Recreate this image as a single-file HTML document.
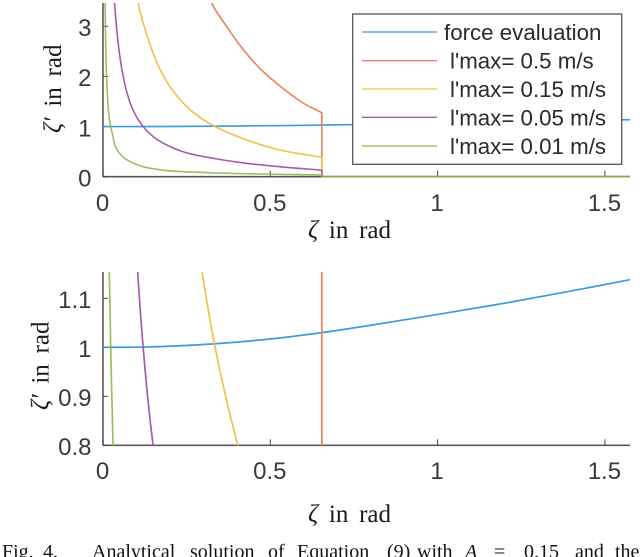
<!DOCTYPE html>
<html>
<head>
<meta charset="utf-8">
<style>
html,body{margin:0;padding:0;background:#fff;}
body{width:640px;height:557px;overflow:hidden;}
svg{display:block;filter:blur(0.35px);}
.tick{font-family:"Liberation Sans",sans-serif;font-size:24px;fill:#3a3a3a;}
.leg{font-family:"Liberation Sans",sans-serif;font-size:22.3px;fill:#2a2a2a;}
.lab{font-family:"Liberation Serif","DejaVu Serif",serif;font-size:25px;fill:#1a1a1a;word-spacing:4.5px;}
.lab .z{font-style:italic;}
.cap{font-family:"Liberation Serif",serif;font-size:20px;fill:#111;}
</style>
</head>
<body>
<svg id="figure" xmlns="http://www.w3.org/2000/svg" width="640" height="557" viewBox="0 0 640 557">
  <defs>
    <clipPath id="clip-top"><rect x="103" y="3" width="527" height="175"/></clipPath>
    <clipPath id="clip-bottom"><rect x="103" y="272" width="527" height="173.5"/></clipPath>
  </defs>
  <g id="top-plot"></g>
  <g id="bottom-plot"></g>

  <text class="lab" x="308" y="238"><tspan class="z">ζ</tspan> in rad</text>
  <text class="lab" transform="translate(61,133) rotate(-90)"><tspan class="z">ζ′</tspan> in rad</text>
  <text class="lab" x="308" y="522"><tspan class="z">ζ</tspan> in rad</text>
  <text class="lab" transform="translate(48.5,410) rotate(-90)"><tspan class="z">ζ′</tspan> in rad</text>

  <g id="legend">
    <rect x="352.7" y="14" width="269" height="150.3" fill="#fff" stroke="#555" stroke-width="1.3"/>
    <line x1="362" x2="437" y1="32" y2="32" stroke="#3f9bd6" stroke-width="1.3"/>
    <text class="leg" x="444" y="40">force evaluation</text>
    <line x1="362" x2="437" y1="60.7" y2="60.7" stroke="#e8825a" stroke-width="1.3"/>
    <text class="leg" x="450" y="68.5">l'max= 0.5 m/s</text>
    <line x1="362" x2="437" y1="89" y2="89" stroke="#f5c04a" stroke-width="1.3"/>
    <text class="leg" x="450" y="97">l'max= 0.15 m/s</text>
    <line x1="362" x2="437" y1="117.3" y2="117.3" stroke="#a45cb0" stroke-width="1.3"/>
    <text class="leg" x="450" y="125.3">l'max= 0.05 m/s</text>
    <line x1="362" x2="437" y1="146" y2="146" stroke="#8ab84a" stroke-width="1.3"/>
    <text class="leg" x="450" y="154">l'max= 0.01 m/s</text>
  </g>

  <g id="caption">
    <text class="cap" x="2" y="558">Fig.</text>
    <text class="cap" x="43" y="558">4.</text>
    <text class="cap" x="92" y="558">Analytical</text>
    <text class="cap" x="190" y="558">solution</text>
    <text class="cap" x="268" y="558">of</text>
    <text class="cap" x="297" y="558">Equation</text>
    <text class="cap" x="387" y="558">(9)</text>
    <text class="cap" x="417" y="558">with</text>
    <text class="cap" x="465" y="558" font-style="italic">A</text>
    <text class="cap" x="494" y="558">=</text>
    <text class="cap" x="524" y="558">0.15</text>
    <text class="cap" x="575" y="558">and</text>
    <text class="cap" x="615" y="558">the</text>
  </g>
</svg>
<script>
var forceX = [0, 0.12, 0.33, 0.5, 0.654, 0.8, 1, 1.2, 1.4, 1.575];
var forceY = [1, 1.0005, 1.007, 1.017, 1.03, 1.045, 1.067, 1.09, 1.115, 1.138];
var l05X = [0.31, 0.325, 0.37, 0.42, 0.469, 0.544, 0.599, 0.654, 0.654, 1.575];
var l05Y = [3.7, 3.46, 2.99, 2.53, 2.16, 1.73, 1.465, 1.277, 0, 0];
var l015X = [0.1, 0.1055, 0.13, 0.172, 0.205, 0.25, 0.297, 0.335, 0.403, 0.519, 0.654, 0.654, 1.575];
var l015Y = [3.7, 3.46, 2.85, 2.12, 1.75, 1.4, 1.15, 1, 0.8, 0.547, 0.387, 0, 0];
var l005X = [0.032, 0.0345, 0.043, 0.057, 0.069, 0.083, 0.105, 0.12, 0.152, 0.23, 0.335, 0.42, 0.519, 0.654, 0.654, 1.575];
var l005Y = [3.7, 3.46, 2.8, 2.12, 1.74, 1.44, 1.14, 1, 0.79, 0.52, 0.36, 0.275, 0.205, 0.13, 0, 0];
var l001X = [0.006, 0.0065, 0.012, 0.0165, 0.019, 0.023, 0.03, 0.036, 0.059, 0.105, 0.18, 0.29, 0.654, 0.654, 1.575];
var l001Y = [4, 3.46, 1.8, 1.3, 1.15, 1, 0.8, 0.62, 0.4, 0.23, 0.13, 0.088, 0.034, 0, 0];
var xTicks = [0, 0.5, 1, 1.5];
var xTickLabels = ['0', '0.5', '1', '1.5'];
var topYTicks = [0, 1, 2, 3];
var topYTickLabels = ['0', '1', '2', '3'];
var bottomYTicks = [0.8, 0.9, 1, 1.1];
var bottomYTickLabels = ['0.8', '0.9', '1', '1.1'];
var seriesNames = ['force-evaluation', 'lmax-0.5', 'lmax-0.15', 'lmax-0.05', 'lmax-0.01'];

var NS = 'http://www.w3.org/2000/svg';
var xMax = 1.575;
function xScale(v) { return 103 + v / xMax * 527; }
function makeY(minV, maxV, pxBottom, pxTop) {
  return function (v) { return pxBottom - (v - minV) / (maxV - minV) * (pxBottom - pxTop); };
}
var lineColors = ['#3f9bd6', '#e8825a', '#f5c04a', '#a45cb0', '#86b544'];
var lineOpacity = [1, 1, 1, 1, 0.85];

// Smooth path inside each run; runs break where consecutive points share an x (vertical drop).
function buildPath(xs, ys, yScale) {
  var px = [], py = [], i;
  for (i = 0; i < xs.length; i++) { px.push(xScale(xs[i])); py.push(yScale(ys[i])); }
  function isBreakAfter(k) { return xs[k] === xs[k + 1] || ys[k] === ys[k + 1]; }
  function tangent(k) {
    var hasPrev = !(k === 0 || isBreakAfter(k - 1));
    var hasNext = !(k === xs.length - 1 || isBreakAfter(k));
    var ax = 0, ay = 0, bx = 0, by = 0, l1 = 1, l2 = 1;
    if (hasPrev) { ax = px[k] - px[k - 1]; ay = py[k] - py[k - 1]; l1 = Math.sqrt(ax * ax + ay * ay) || 1; ax /= l1; ay /= l1; }
    if (hasNext) { bx = px[k + 1] - px[k]; by = py[k + 1] - py[k]; l2 = Math.sqrt(bx * bx + by * by) || 1; bx /= l2; by /= l2; }
    var dx = ax * l2 + bx * l1, dy = ay * l2 + by * l1;
    var len = Math.sqrt(dx * dx + dy * dy) || 1;
    return [dx / len, dy / len];
  }
  var d = 'M' + px[0].toFixed(2) + ' ' + py[0].toFixed(2);
  for (i = 0; i < xs.length - 1; i++) {
    if (isBreakAfter(i)) {
      d += 'L' + px[i + 1].toFixed(2) + ' ' + py[i + 1].toFixed(2);
    } else {
      var sx = px[i + 1] - px[i], sy = py[i + 1] - py[i];
      var seg = Math.sqrt(sx * sx + sy * sy) / 3;
      var t0 = tangent(i), t1 = tangent(i + 1);
      d += 'C' + (px[i] + t0[0] * seg).toFixed(2) + ' ' + (py[i] + t0[1] * seg).toFixed(2) + ' ' +
           (px[i + 1] - t1[0] * seg).toFixed(2) + ' ' + (py[i + 1] - t1[1] * seg).toFixed(2) + ' ' +
           px[i + 1].toFixed(2) + ' ' + py[i + 1].toFixed(2);
    }
  }
  return d;
}

function drawPanel(rootId, clipId, yScale, yTicks, yLabels, pxBottom, pxTop, xLabelY, width) {
  var root = document.getElementById(rootId);
  var seriesX = [forceX, l05X, l015X, l005X, l001X];
  var seriesY = [forceY, l05Y, l015Y, l005Y, l001Y];
  var i, el;

  el = document.createElementNS(NS, 'line');
  el.setAttribute('x1', 103); el.setAttribute('x2', 103);
  el.setAttribute('y1', pxTop); el.setAttribute('y2', pxBottom);
  el.setAttribute('stroke', '#5a5a5a'); el.setAttribute('stroke-width', 1.6);
  
  
  root.appendChild(el);

  el = document.createElementNS(NS, 'line');
  el.setAttribute('x1', 103); el.setAttribute('x2', 630);
  el.setAttribute('y1', pxBottom); el.setAttribute('y2', pxBottom);
  el.setAttribute('stroke', '#5a5a5a'); el.setAttribute('stroke-width', 1.6);
  
  
  root.appendChild(el);

  for (i = 0; i < xTicks.length; i++) {
    var tx = xScale(xTicks[i]);
    el = document.createElementNS(NS, 'line');
    el.setAttribute('x1', tx); el.setAttribute('x2', tx);
    el.setAttribute('y1', pxBottom); el.setAttribute('y2', pxBottom - 6);
    el.setAttribute('stroke', '#444'); el.setAttribute('stroke-width', 1);
    
    
    root.appendChild(el);
    el = document.createElementNS(NS, 'text');
    el.setAttribute('class', 'tick');
    el.setAttribute('x', tx - 0.5);
    el.setAttribute('y', xLabelY);
    el.setAttribute('text-anchor', 'middle');
    
    
    el.textContent = xTickLabels[i];
    root.appendChild(el);
  }

  for (i = 0; i < yTicks.length; i++) {
    var ty = yScale(yTicks[i]);
    el = document.createElementNS(NS, 'line');
    el.setAttribute('x1', 103); el.setAttribute('x2', 108);
    el.setAttribute('y1', ty); el.setAttribute('y2', ty);
    el.setAttribute('stroke', '#444'); el.setAttribute('stroke-width', 1);
    
    
    root.appendChild(el);
    el = document.createElementNS(NS, 'text');
    el.setAttribute('class', 'tick');
    el.setAttribute('x', 91.5);
    el.setAttribute('y', ty + 9.7);
    el.setAttribute('text-anchor', 'end');
    
    
    el.textContent = yLabels[i];
    root.appendChild(el);
  }

  var marks = document.createElementNS(NS, 'g');
  marks.setAttribute('clip-path', 'url(#' + clipId + ')');
  
  
  root.appendChild(marks);
  for (i = 0; i < seriesX.length; i++) {
    el = document.createElementNS(NS, 'path');
    el.setAttribute('d', buildPath(seriesX[i], seriesY[i], yScale));
    el.setAttribute('fill', 'none');
    el.setAttribute('stroke', lineColors[i]);
    el.setAttribute('stroke-opacity', lineOpacity[i]);
    el.setAttribute('stroke-width', width);
    
    
    marks.appendChild(el);
  }
}

drawPanel('top-plot', 'clip-top', makeY(0, 3, 176.7, 26.3), topYTicks, topYTickLabels, 176.7, 3, 211, 1.6);
drawPanel('bottom-plot', 'clip-bottom', makeY(0.8, 1.1, 445.3, 298.3), bottomYTicks, bottomYTickLabels, 445.3, 272, 479, 1.7);
</script>
</body>
</html>
